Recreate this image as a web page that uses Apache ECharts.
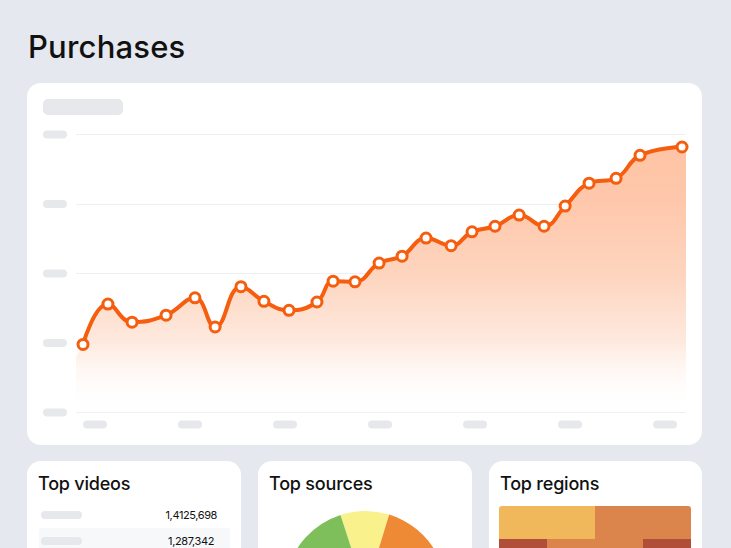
<!DOCTYPE html>
<html>
<head>
<meta charset="utf-8">
<title>Purchases</title>
<script src="https://cdn.jsdelivr.net/npm/echarts@6/dist/echarts.min.js"></script>
<style>
	html, body { margin: 0; padding: 0; width: 731px; height: 548px; overflow: hidden; background: #E5E8EE; font-family: Inter, "Noto Sans", sans-serif; color: #111; }
	.abs { position: absolute; }
	.card { position: absolute; background: #fff; border-radius: 14px; }
	.pill { position: absolute; background: #E6E8EC; border-radius: 4px; }
	h1 { position: absolute; left: 28px; top: 28px; margin: 0; font-size: 31px; line-height: 38px; font-weight: 550; letter-spacing: 0.2px; }
	h2 { position: absolute; left: 11px; top: 12px; margin: 0; font-size: 18px; line-height: 22px; font-weight: 500; letter-spacing: -0.2px; }
	.num { position: absolute; font-size: 11px; line-height: 14px; text-align: right; width: 80px; letter-spacing: -0.4px; }
</style>
</head>
<body>
	<h1>Purchases</h1>

	<div class="card" style="left: 27px; top: 83px; width: 675px; height: 362px"></div>
	<div id="main" class="abs" style="left: 27px; top: 83px; width: 675px; height: 362px"></div>
	<div class="pill" style="left: 43px; top: 99px; width: 80px; height: 16px; border-radius: 5px"></div>

	<div class="card" style="left: 27px; top: 461px; width: 214px; height: 120px"><h2>Top videos</h2></div>
	<div class="abs" style="left: 39px; top: 528px; width: 191px; height: 20px; background: #F7F8FA; border-radius: 3px 3px 0 0"></div>
	<div class="pill" style="left: 41px; top: 511px; width: 41px; height: 8px"></div>
	<div class="pill" style="left: 41px; top: 537px; width: 41px; height: 8px"></div>
	<div class="num" style="left: 137px; top: 508px">1,4125,698</div>
	<div class="num" style="left: 134px; top: 534px">1,287,342</div>

	<div class="card" style="left: 258px; top: 461px; width: 214px; height: 120px"><h2>Top sources</h2></div>
	<div id="pie" class="abs" style="left: 258px; top: 500px; width: 214px; height: 48px"></div>

	<div class="card" style="left: 489px; top: 461px; width: 213px; height: 120px"><h2>Top regions</h2></div>
	<div id="regions" class="abs" style="left: 499px; top: 506px; width: 192px; height: 42px; border-radius: 3px 3px 0 0; overflow: hidden"></div>

<script type="text/javascript">
	// purchases over time
	var purchaseDays = [-0.63, 0.68, 1.95, 3.74, 5.26, 6.32, 7.68, 8.89, 10.21, 11.68, 12.53, 13.68, 14.95, 16.16, 17.42, 18.74, 19.84, 21.05, 22.32, 23.63, 24.74, 26, 27.42, 28.68, 30.89];
	var purchaseValues = [98, 156, 130, 140, 165, 123, 181, 160, 147, 159, 189, 188, 215, 225, 251, 240, 260, 268, 284, 268, 297, 330, 337, 370, 382];
	var valueTicks = [0, 100, 200, 300, 400];
	var dayTicks = [0, 5, 10, 15, 20, 25, 30];
	// the filled area runs a little past the first and last point
	var areaStart = [-1, 80];
	var areaEnd = [31.1, 382];

	// top sources
	var sourceNames = ['Social', 'Search', 'Email', 'Referral'];
	var sourceValues = [35, 115, 90, 120];
	var sourceColors = ['#F9F18B', '#EE8A35', '#D9573F', '#7FBF5B'];

	// top regions, two rows of stacked cells
	var regionRows = ['Row 1', 'Row 2'];
	var regionFirst = [50, 25];
	var regionSecond = [50, 50];
	var regionThird = [0, 25];
	var regionFirstColors = ['#F0B85A', '#B04E3A'];
	var regionSecondColors = ['#DB854C', '#DB854C'];
	var regionThirdColors = ['#B04E3A', '#B04E3A'];

	function zip(xs, ys) {
		var out = [];
		for (var i = 0; i < xs.length; i++) {
			out.push([xs[i], ys[i]]);
		}
		return out;
	}

	function pillLabel(margin) {
		return {
			margin: margin,
			formatter: function() { return '{pill| }'; },
			rich: {
				pill: { width: 24, height: 8, backgroundColor: '#E6E8EC', borderRadius: 4 }
			}
		};
	}

	function createMainChart() {
		var chart = echarts.init(document.getElementById('main'));
		var line = zip(purchaseDays, purchaseValues);
		var xLabel = pillLabel(8);
		xLabel.customValues = dayTicks;
		var yLabel = pillLabel(9);
		yLabel.customValues = valueTicks;
		chart.setOption({
			animation: false,
			grid: { left: 49, right: 16, top: 51.5, bottom: 32.5, outerBoundsMode: 'none' },
			xAxis: {
				type: 'value',
				min: -1,
				max: 31.1,
				axisLine: { show: false },
				axisTick: { show: false },
				splitLine: { show: false },
				axisLabel: xLabel
			},
			yAxis: {
				type: 'value',
				min: 0,
				max: 400,
				interval: 100,
				axisLine: { show: false },
				axisTick: { show: false },
				splitLine: { lineStyle: { color: '#EDEFF2', width: 1 } },
				axisLabel: yLabel
			},
			series: [ {
				type: 'line',
				data: [areaStart].concat(line, [areaEnd]),
				smooth: 0.45,
				showSymbol: false,
				silent: true,
				lineStyle: { opacity: 0 },
				areaStyle: {
					opacity: 0.9,
					color: new echarts.graphic.LinearGradient(0, 0, 0, 1, [
						{ offset: 0, color: '#FFBD9A' },
						{ offset: 0.2, color: '#FFC2A3' },
						{ offset: 0.475, color: '#FED0B7' },
						{ offset: 0.74, color: '#FEE8DC' },
						{ offset: 1, color: 'rgba(255,255,255,0)' }
					])
				}
			}, {
				type: 'line',
				data: line,
				smooth: 0.45,
				symbol: 'circle',
				symbolSize: 10,
				showAllSymbol: true,
				lineStyle: { color: '#F55E0F', width: 4 },
				itemStyle: { color: '#fff', borderColor: '#F55E0F', borderWidth: 3 }
			} ]
		});
	}

	function createPieChart() {
		var chart = echarts.init(document.getElementById('pie'));
		var data = [];
		for (var i = 0; i < sourceNames.length; i++) {
			data.push({ name: sourceNames[i], value: sourceValues[i], itemStyle: { color: sourceColors[i] } });
		}
		chart.setOption({
			animation: false,
			series: [ {
				type: 'pie',
				center: [107.5, 92],
				radius: [0, 81],
				startAngle: 108,
				label: { show: false },
				labelLine: { show: false },
				data: data
			} ]
		});
	}

	function createRegionChart() {
		var chart = echarts.init(document.getElementById('regions'));
		function cells(values, colors) {
			var out = [];
			for (var i = 0; i < values.length; i++) {
				out.push({ value: values[i], itemStyle: { color: colors[i] } });
			}
			return out;
		}
		chart.setOption({
			animation: false,
			grid: { left: 0, top: 0, width: 192, height: 66, outerBoundsMode: 'none' },
			xAxis: { type: 'value', min: 0, max: 100, show: false },
			yAxis: { type: 'category', data: regionRows, inverse: true, show: false },
			series: [
				{ type: 'bar', stack: 'r', barWidth: '100%', data: cells(regionFirst, regionFirstColors) },
				{ type: 'bar', stack: 'r', barWidth: '100%', data: cells(regionSecond, regionSecondColors) },
				{ type: 'bar', stack: 'r', barWidth: '100%', data: cells(regionThird, regionThirdColors) }
			]
		});
	}

	createMainChart();
	createPieChart();
	createRegionChart();
</script>
</body>
</html>
